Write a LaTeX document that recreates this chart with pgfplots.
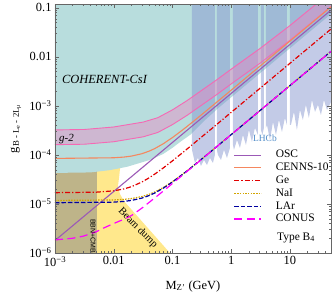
\documentclass[border=0pt]{standalone}
\usepackage{fontspec}
\setmainfont{Liberation Serif}
\newfontfamily\sansf{Liberation Sans}
\usepackage{pgfplots}
\pgfplotsset{compat=1.18}

\definecolor{teal1}{RGB}{184,221,221}
\definecolor{lhcb}{RGB}{136,152,208}
\definecolor{yel}{RGB}{255,232,140}
\definecolor{olive1}{RGB}{190,180,137}
\definecolor{pinkf}{RGB}{240,128,192}
\definecolor{pinkl}{RGB}{245,105,180}
\definecolor{oscc}{RGB}{155,89,182}
\definecolor{cennsc}{RGB}{245,135,95}
\definecolor{gec}{RGB}{225,0,0}
\definecolor{naic}{RGB}{210,165,0}
\definecolor{larc}{RGB}{0,0,160}
\definecolor{conusc}{RGB}{255,0,255}
\definecolor{lhcbtext}{RGB}{80,140,200}

\begin{document}
\begin{tikzpicture}
\useasboundingbox (-55bp,-42bp) rectangle (280bp,253bp);
\begin{axis}[
  at={(0,0)}, anchor=south west,
  scale only axis, width=276bp, height=249bp,
  xmode=log, ymode=log, xmin=1e-3, xmax=50, ymin=1e-6, ymax=0.12,
  axis on top, clip mode=individual,
  axis line style={gray!80!black, line width=0.5pt},
  tick style={gray!80!black, line width=0.4pt},
  tick align=inside, major tick length=4bp, minor tick length=2.2bp,
  xtick={1e-3,0.01,0.1,1,10},
  xticklabels={10\textsuperscript{−3},0.01,0.1,1,10},
  ytick={1e-6,1e-5,1e-4,1e-3,0.01,0.1},
  yticklabels={10\textsuperscript{−6},10\textsuperscript{−5},10\textsuperscript{−4},10\textsuperscript{−3},0.01,0.1},
  minor xtick={2e-3,3e-3,4e-3,5e-3,6e-3,7e-3,8e-3,9e-3,0.02,0.03,0.04,0.05,0.06,0.07,0.08,0.09,0.2,0.3,0.4,0.5,0.6,0.7,0.8,0.9,2,3,4,5,6,7,8,9,20,30,40},
  minor ytick={2e-6,3e-6,4e-6,5e-6,6e-6,7e-6,8e-6,9e-6,2e-5,3e-5,4e-5,5e-5,6e-5,7e-5,8e-5,9e-5,2e-4,3e-4,4e-4,5e-4,6e-4,7e-4,8e-4,9e-4,2e-3,3e-3,4e-3,5e-3,6e-3,7e-3,8e-3,9e-3,0.02,0.03,0.04,0.05,0.06,0.07,0.08,0.09},
  tick label style={font=\fontsize{12.5}{14}\selectfont, text=black},
  xlabel={M\textsubscript{Z'} (GeV)},
  xlabel style={at={(axis description cs:0.5,0)}, anchor=base, yshift=-36bp, font=\fontsize{12.5}{14}\selectfont},
  ylabel={g\textsubscript{B - L\textsubscript{e} - 2L\textsubscript{μ}}},
  ylabel style={at={(axis description cs:-0.137,0.5)}, anchor=base, font=\fontsize{12.5}{14}\selectfont},
  legend cell align=left,
  legend style={at={(axis description cs:0.648,0.419)}, anchor=north west, draw=none, fill=none,
    inner sep=0pt, outer sep=0pt, row sep=0pt, font=\fontsize{11.5}{13}\selectfont,
    nodes={inner sep=1.2bp, text height=8bp, text depth=2.4bp}},
  legend image code/.code={\draw[#1] (0bp,0bp) -- (27bp,0bp); \path (39.6bp,0bp);},
]
% Beam dump
\addplot[fill=yel, draw=none, forget plot] coordinates {(1e-3,1e-6) (1e-3,8e-5) (0.0133,8e-5) (0.0123,3.39e-5) (0.0118,2.33e-5) (0.01276,1.6e-5) (0.0149,1.15e-5) (0.0906,1e-6)};
% BBN+CMB
\addplot[fill=olive1, draw=none, forget plot] coordinates {(1e-3,1e-6) (1e-3,8e-5) (0.0052,8e-5) (0.0052,1e-6)};
% COHERENT-CsI
\addplot[fill=teal1, draw=none, forget plot] coordinates {(1e-3,1) (50,1) (50,0.075) (10,0.015) (3,4.5e-3) (1,1.5e-3) (0.6,9e-4) (0.35,5e-4) (0.2,2.57e-4) (0.14,1.9e-4) (0.1,1.4e-4) (0.07,1.05e-4) (0.0417,7.94e-5) (0.017,5.75e-5) (0.0086,4.9e-5) (0.004,4.4e-5) (1e-3,4.3e-5)};
% LHCb
\addplot[fill=lhcb, fill opacity=0.5, draw=none, forget plot] coordinates {(0.215,1) (0.215,1.265e-4) (0.2415,6.87e-5) (0.2716,8.69e-5) (0.3055,5.97e-5) (0.3436,7.91e-5) (0.3864,6.25e-5) (0.4345,8.69e-5) (0.4887,6.87e-5) (0.5284,1e-4) (0.5284,1)};
\addplot[fill=lhcb, fill opacity=0.5, draw=none, forget plot] coordinates {(0.5715,1) (0.5715,1.265e-4) (0.5943,1e-4) (0.6699,7.91e-5) (0.7534,1.265e-4) (0.8472,8.69e-5) (0.9528,1.39e-4) (0.9528,1)};
\addplot[fill=lhcb, fill opacity=0.5, draw=none, forget plot] coordinates {(1.072,1) (1.072,1.6e-4) (1.114,1.265e-4) (1.253,2.02e-4) (1.409,1.39e-4) (1.585,2.56e-4) (1.782,1.6e-4) (2.004,3.24e-4) (2.254,1.84e-4) (2.535,3.56e-4) (2.851,2.56e-4) (2.851,1)};
\addplot[fill=lhcb, fill opacity=0.5, draw=none, forget plot] coordinates {(3.206,1) (3.206,3.24e-4) (3.4,2.56e-4) (3.606,3.56e-4) (3.606,1)};
\addplot[fill=lhcb, fill opacity=0.5, draw=none, forget plot] coordinates {(3.9,1) (3.9,3.56e-4) (4.06,4.09e-4) (4.57,2.02e-4) (5.14,4.71e-4) (5.78,2.56e-4) (6.50,5.18e-4) (7.31,2.94e-4) (8.22,5.69e-4) (8.89,4.09e-4) (8.89,1)};
\addplot[fill=lhcb, fill opacity=0.5, draw=none, forget plot] coordinates {(10.0,1) (10.0,4.09e-4) (10.4,4.09e-4) (11.7,7.55e-4) (13.15,3.24e-4) (14.8,8.28e-4) (16.6,5.18e-4) (18.7,1.047e-3) (21.0,5.69e-4) (23.7,1.324e-3) (26.7,7.55e-4) (30.0,1.047e-3) (33.7,6.55e-4) (37.9,1.324e-3) (42.7,8.28e-4) (50,1.2e-3) (50,1)};
% g-2 band
\addplot[fill=pinkf, fill opacity=0.4, draw=none, forget plot] coordinates {(1e-3,3.24e-4) (3.162e-3,3.31e-4) (0.01,3.72e-4) (0.03162,4.68e-4) (0.05623,5.75e-4) (0.1,8.32e-4) (0.1778,1.288e-3) (0.3162,2.089e-3) (0.5623,3.388e-3) (1,5.623e-3) (3.162,0.01514) (10,0.04365) (31.62,0.1349) (50.12,0.2138) (50.12,0.107) (31.62,0.0675) (10,0.0218) (3.162,7.57e-3) (1,2.81e-3) (0.5623,1.694e-3) (0.3162,1.045e-3) (0.1778,6.44e-4) (0.1,4.16e-4) (0.05623,2.875e-4) (0.03162,2.34e-4) (0.01,1.86e-4) (3.162e-3,1.655e-4) (1e-3,1.62e-4)};
\addplot[pinkl, line width=0.9bp, forget plot] coordinates {(1e-3,3.24e-4) (3.162e-3,3.31e-4) (0.01,3.72e-4) (0.03162,4.68e-4) (0.05623,5.75e-4) (0.1,8.32e-4) (0.1778,1.288e-3) (0.3162,2.089e-3) (0.5623,3.388e-3) (1,5.623e-3) (3.162,0.01514) (10,0.04365) (31.62,0.1349) (50.12,0.2138)};
\addplot[pinkl, line width=0.9bp, forget plot] coordinates {(1e-3,1.62e-4) (3.162e-3,1.655e-4) (0.01,1.86e-4) (0.03162,2.34e-4) (0.05623,2.875e-4) (0.1,4.16e-4) (0.1778,6.44e-4) (0.3162,1.045e-3) (0.5623,1.694e-3) (1,2.81e-3) (3.162,7.57e-3) (10,0.0218) (31.62,0.0675) (50.12,0.107)};
% lines
\addplot[oscc, line width=1.1bp] coordinates {(1e-3,1.8e-6) (50,0.09)};
\addlegendentry{OSC}
\addplot[cennsc, line width=1.1bp] coordinates {(1e-3,8.5e-5) (0.01,8.76e-5) (0.015,9.06e-5) (0.02,9.48e-5) (0.03,1.058e-4) (0.04,1.195e-4) (0.05,1.351e-4) (0.07,1.698e-4) (0.1,2.265e-4) (0.15,3.262e-4) (0.2,4.285e-4) (0.3,6.357e-4) (0.5,1.053e-3) (1,2.1e-3) (50,0.105)};
\addlegendentry{CENNS-10}
\addplot[gec, line width=1.2bp, dash pattern=on 5bp off 2bp on 1.2bp off 2bp] coordinates {(1e-3,1.70e-5) (0.005,1.74e-5) (0.01,1.854e-5) (0.015,2.03e-5) (0.02,2.254e-5) (0.03,2.796e-5) (0.04,3.413e-5) (0.05,4.072e-5) (0.07,5.452e-5) (0.1,7.593e-5) (0.15,1.123e-4) (0.2,1.49e-4) (0.3,2.227e-4) (0.5,3.7e-4) (1,7.4e-4) (50,0.037)};
\addlegendentry{Ge}
\addplot[naic, line width=1.2bp, dash pattern=on 1.5bp off 1.2bp] coordinates {(1e-3,1.18e-5) (0.01,1.208e-5) (0.015,1.243e-5) (0.02,1.289e-5) (0.03,1.414e-5) (0.04,1.573e-5) (0.05,1.756e-5) (0.07,2.169e-5) (0.1,2.855e-5) (0.15,4.075e-5) (0.2,5.332e-5) (0.3,7.89e-5) (0.5,1.305e-4) (1,2.6e-4) (50,0.013)};
\addlegendentry{NaI}
\addplot[larc, line width=1.2bp, dash pattern=on 4.5bp off 2bp] coordinates {(1e-3,1.06e-5) (0.01,1.091e-5) (0.015,1.129e-5) (0.02,1.181e-5) (0.03,1.316e-5) (0.04,1.485e-5) (0.05,1.677e-5) (0.07,2.106e-5) (0.1,2.808e-5) (0.15,4.041e-5) (0.2,5.306e-5) (0.3,7.87e-5) (0.5,1.304e-4) (1,2.6e-4) (50,0.013)};
\addlegendentry{LAr}
\addplot[conusc, line width=1.2bp, dash pattern=on 8bp off 4.5bp] coordinates {(1e-3,1.85e-6) (2e-3,2.0e-6) (3e-3,2.2e-6) (5e-3,2.7e-6) (7e-3,3.3e-6) (0.01,4.0e-6) (0.015,4.9e-6) (0.02,5.8e-6) (0.03,8.2e-6) (0.05,1.33e-5) (0.07,1.84e-5) (0.1,2.62e-5) (0.2,5.2e-5) (1,2.6e-4) (50,0.013)};
\addlegendentry{CONUS}
% texts
\node[anchor=base west, inner sep=0, font=\fontsize{12.5}{14}\selectfont\itshape] at (rel axis cs:0.025,0.679) {COHERENT-CsI};
\node[anchor=base west, inner sep=0, font=\fontsize{11}{13}\selectfont\itshape] at (rel axis cs:0.0145,0.446) {g-2};
\node[anchor=base west, inner sep=0, font=\fontsize{9.5}{11}\selectfont, text=lhcbtext] at (rel axis cs:0.717,0.446) {LHCb};
\node[rotate=-45, inner sep=0, font=\fontsize{10.5}{12}\selectfont] at (rel axis cs:0.30,0.10) {Beam dump};
\node[rotate=-90, inner sep=0, font=\sansf\fontsize{7}{8}\selectfont] at (rel axis cs:0.138,0.068) {BBN+CMB};
\node[anchor=base west, inner sep=0, font=\fontsize{11.5}{13}\selectfont] at (rel axis cs:0.804,0.052) {Type B\textsubscript{4}};
\end{axis}
\end{tikzpicture}
\end{document}
